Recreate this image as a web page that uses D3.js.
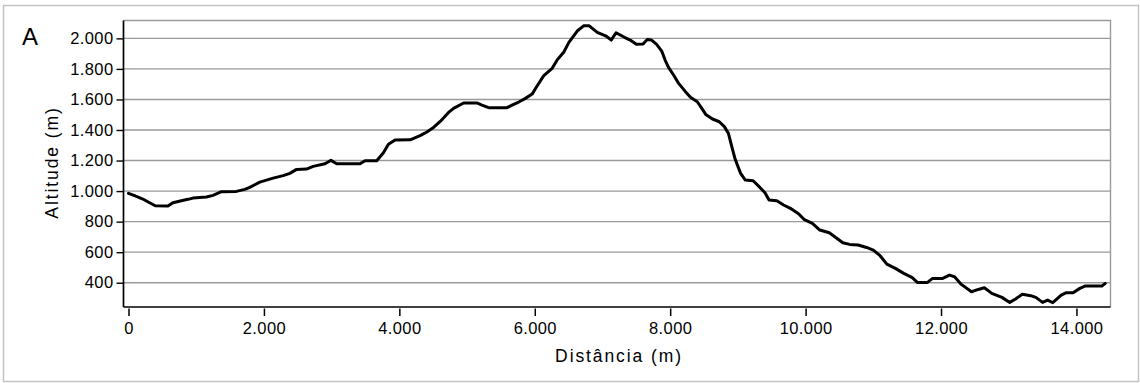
<!DOCTYPE html>
<html>
<head>
<meta charset="utf-8">
<script src="https://cdn.jsdelivr.net/npm/d3@7"></script>
<style>
  html, body { margin: 0; padding: 0; background: #fff; }
  svg { display: block; font-family: "Liberation Sans", Arial, sans-serif; }
</style>
</head>
<body>
<svg id="chart" width="1140" height="383"></svg>
<script>
// Elevation profile: distance along the route (m) and altitude (m)
const distance = [
  0, 89, 212, 311, 395, 582, 656, 780, 878, 952, 1150, 1248, 1372, 1594, 1717, 1791,
  1939, 2038, 2136, 2284, 2383, 2482, 2630, 2728, 2901, 2990, 3074, 3419, 3493, 3666,
  3765, 3839, 3937, 4159, 4307, 4406, 4505, 4604, 4727, 4801, 4949, 5146, 5220, 5319,
  5590, 5664, 5763, 5862, 5961, 6034, 6133, 6257, 6331, 6430, 6504, 6627, 6726, 6800,
  6923, 7046, 7130, 7200, 7325, 7425, 7500, 7600, 7660, 7725, 7800, 7875, 7925, 7975,
  8050, 8125, 8225, 8300, 8400, 8450, 8525, 8625, 8725, 8800, 8860, 8910, 8960, 9040,
  9110, 9225, 9325, 9400, 9460, 9575, 9675, 9775, 9900, 9975, 10100, 10210, 10350, 10450,
  10550, 10650, 10775, 10900, 11000, 11100, 11200, 11325, 11450, 11575, 11650, 11800, 11875, 12025,
  12125, 12200, 12300, 12450, 12550, 12640, 12750, 12900, 13015, 13100, 13200, 13325, 13400, 13500,
  13575, 13650, 13775, 13850, 13950, 14050, 14125, 14300, 14375, 14425
];
const altitude = [
  985, 970, 948, 924, 904, 902, 924, 937, 946, 954, 961, 972, 996, 998, 1011, 1024,
  1059, 1072, 1085, 1101, 1116, 1142, 1144, 1162, 1179, 1201, 1179, 1179, 1199, 1199,
  1251, 1306, 1334, 1336, 1363, 1387, 1417, 1456, 1515, 1542, 1577, 1577, 1563, 1546,
  1546, 1563, 1583, 1607, 1635, 1688, 1756, 1804, 1859, 1911, 1974, 2048, 2083, 2083,
  2039, 2017, 1989, 2037, 2007, 1985, 1961, 1963, 1993, 1989, 1961, 1917, 1858, 1810,
  1760, 1705, 1651, 1614, 1585, 1553, 1502, 1472, 1454, 1422, 1378, 1291, 1208, 1116,
  1072, 1068, 1024, 989, 941, 937, 909, 887, 850, 815, 789, 745, 727, 695,
  662, 651, 647, 631, 614, 577, 522, 494, 461, 433, 402, 402, 428, 428,
  450, 439, 389, 341, 356, 367, 330, 304, 271, 293, 324, 315, 304, 271,
  286, 269, 319, 335, 335, 363, 378, 378, 378, 396
];

const xTicks = [0, 2000, 4000, 6000, 8000, 10000, 12000, 14000];
const yTicks = [400, 600, 800, 1000, 1200, 1400, 1600, 1800, 2000];

const panelLabel = "A";
const xTitle = "Distância (m)";
const yTitle = "Altitude (m)";

const points = distance.map((d, i) => ({ d, a: altitude[i] }));

const svg = d3.select("#chart");
const plot = { left: 123.5, right: 1110.5, top: 20.5, bottom: 307 };
const FONT = "Liberation Sans, Arial, sans-serif";

const x = d3.scaleLinear().domain([-74, 14503]).range([plot.left, plot.right]);
const y = d3.scaleLinear().domain([241, 2117]).range([plot.bottom, plot.top]);

// Portuguese number format: "." as thousands separator
const pt = d3.formatLocale({ decimal: ",", thousands: ".", grouping: [3], currency: ["R$", ""] });
const fmt = pt.format(",d");

// outer frame
svg.append("rect")
  .attr("x", 3.5).attr("y", 5.5)
  .attr("width", 1135).attr("height", 376)
  .attr("fill", "none").attr("stroke", "#c4c4c4").attr("stroke-width", 1.5);

// horizontal grid
svg.append("g")
  .selectAll("line")
  .data(yTicks)
  .join("line")
  .attr("x1", plot.left).attr("x2", plot.right)
  .attr("y1", d => y(d)).attr("y2", d => y(d))
  .attr("stroke", "#9a9a9a").attr("stroke-width", 1.4);

// top and right plot border
svg.append("path")
  .attr("d", `M${plot.left},${plot.top}H${plot.right}V${plot.bottom}`)
  .attr("fill", "none").attr("stroke", "#9a9a9a").attr("stroke-width", 1.4);

// y axis
const yAxis = d3.axisLeft(y).tickValues(yTicks).tickFormat(fmt).tickSize(7).tickPadding(3);
const gy = svg.append("g").attr("transform", `translate(${plot.left},0)`).call(yAxis);
gy.attr("font-family", FONT);
gy.select(".domain").attr("d", `M0,${plot.top}V${plot.bottom}`).attr("stroke", "#000").attr("stroke-width", 1.7);
gy.selectAll(".tick line").attr("stroke", "#000").attr("stroke-width", 1.4);
gy.selectAll(".tick text")
  .attr("fill", "#000").attr("font-size", 16.5).attr("letter-spacing", 0.4);

// x axis
const xAxis = d3.axisBottom(x).tickValues(xTicks).tickFormat(fmt).tickSize(0).tickPadding(0);
const gx = svg.append("g").attr("transform", `translate(0,${plot.bottom})`).call(xAxis);
gx.attr("font-family", FONT);
gx.select(".domain").attr("d", `M${plot.left},0H${plot.right}`).attr("stroke", "#000").attr("stroke-width", 1.7);
gx.selectAll(".tick line").attr("y1", 1.5).attr("y2", 9).attr("stroke", "#000").attr("stroke-width", 1.5);
gx.selectAll(".tick text")
  .attr("dy", null).attr("y", 27)
  .attr("fill", "#000").attr("font-size", 16.5).attr("letter-spacing", 0.4);

// profile line
const line = d3.line().x(p => x(p.d)).y(p => y(p.a));
svg.append("path")
  .datum(points)
  .attr("d", line)
  .attr("fill", "none")
  .attr("stroke", "#000")
  .attr("stroke-width", 3)
  .attr("stroke-linejoin", "round")
  .attr("stroke-linecap", "round");

// axis titles
svg.append("text")
  .attr("x", (plot.left + plot.right) / 2 + 2).attr("y", 362)
  .attr("text-anchor", "middle")
  .attr("font-family", FONT)
  .attr("font-size", 17.5).attr("letter-spacing", 1.9)
  .attr("fill", "#000")
  .text(xTitle);

svg.append("text")
  .attr("transform", `translate(58,162.5) rotate(-90)`)
  .attr("text-anchor", "middle")
  .attr("font-family", FONT)
  .attr("font-size", 17.5).attr("letter-spacing", 1.9)
  .attr("fill", "#000")
  .text(yTitle);

// panel letter
svg.append("text")
  .attr("x", 22).attr("y", 45)
  .attr("font-family", FONT)
  .attr("font-size", 24)
  .attr("fill", "#000")
  .text(panelLabel);
</script>
</body>
</html>
